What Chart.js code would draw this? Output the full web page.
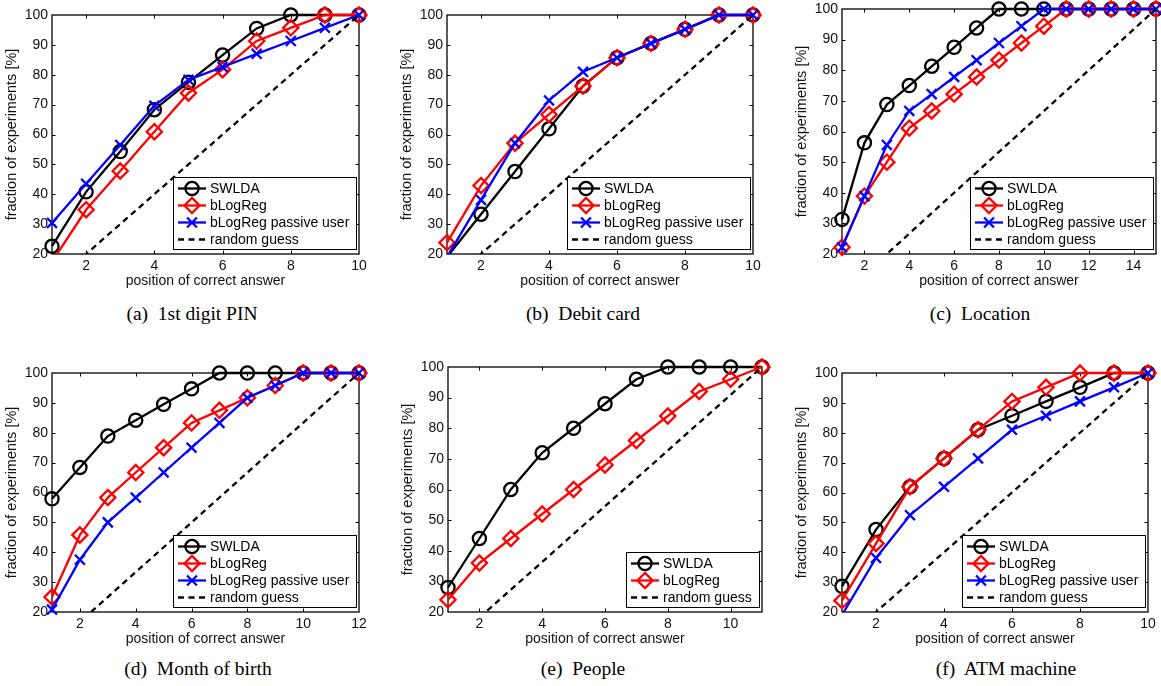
<!DOCTYPE html>
<html>
<head>
<meta charset="utf-8">
<script src="https://cdn.jsdelivr.net/npm/chart.js@4.4.1/dist/chart.umd.min.js"></script>
<style>
html,body{margin:0;padding:0;background:#fff;}
body{width:1161px;height:686px;overflow:hidden;position:relative;}
canvas{position:absolute;}
.cap{position:absolute;font-family:"Liberation Serif","Times New Roman",serif;font-size:19.5px;white-space:pre;color:#000;transform:translate(-50%,-50%);line-height:1;}
</style>
</head>
<body>
<canvas id="ca"></canvas>
<canvas id="cb"></canvas>
<canvas id="cc"></canvas>
<canvas id="cd"></canvas>
<canvas id="ce"></canvas>
<canvas id="cf"></canvas>
<script>
// ---------- data ----------
const Y_TICKS = [20, 30, 40, 50, 60, 70, 80, 90, 100];
const LABELS = ['SWLDA', 'bLogReg', 'bLogReg passive user', 'random guess'];
const X_TITLE = 'position of correct answer';
const Y_TITLE = 'fraction of experiments [%]';
const CAPTIONS = ['(a)  1st digit PIN', '(b)  Debit card', '(c)  Location',
                  '(d)  Month of birth', '(e)  People', '(f)  ATM machine'];

// (a) 1st digit PIN
const posA = [1, 2, 3, 4, 5, 6, 7, 8, 9, 10];
const swldaA = [22.6, 40.8, 54.3, 68.3, 77.5, 86.6, 95.5, 100, 100, 100];
const blogA = [17.4, 34.8, 47.8, 60.9, 73.9, 81.7, 91.3, 95.7, 100, 100];
const passiveA = [30.4, 43.5, 56.5, 69.6, 78.3, 82.6, 87.0, 91.3, 95.7, 100];
const randomA = [10, 20, 30, 40, 50, 60, 70, 80, 90, 100];
const xTicksA = [2, 4, 6, 8, 10];

// (b) Debit card
const posB = [1, 2, 3, 4, 5, 6, 7, 8, 9, 10];
const swldaB = [19.0, 33.3, 47.6, 61.9, 76.2, 85.7, 90.5, 95.2, 100, 100];
const blogB = [23.8, 42.9, 57.1, 66.7, 76.2, 85.7, 90.5, 95.2, 100, 100];
const passiveB = [19.0, 38.1, 57.1, 71.4, 81.0, 85.7, 90.5, 95.2, 100, 100];
const randomB = [10, 20, 30, 40, 50, 60, 70, 80, 90, 100];
const xTicksB = [2, 4, 6, 8, 10];

// (c) Location
const posC = [1, 2, 3, 4, 5, 6, 7, 8, 9, 10, 11, 12, 13, 14, 15];
const swldaC = [31.3, 56.3, 68.8, 75.0, 81.3, 87.5, 93.8, 100, 100, 100, 100, 100, 100, 100, 100];
const blogC = [22.2, 38.9, 50.0, 61.1, 66.7, 72.2, 77.8, 83.3, 88.9, 94.4, 100, 100, 100, 100, 100];
const passiveC = [22.2, 38.9, 55.6, 66.7, 72.2, 77.8, 83.3, 88.9, 94.4, 100, 100, 100, 100, 100, 100];
const randomC = [6.67, 13.33, 20, 26.67, 33.33, 40, 46.67, 53.33, 60, 66.67, 73.33, 80, 86.67, 93.33, 100];
const xTicksC = [2, 4, 6, 8, 10, 12, 14];

// (d) Month of birth
const posD = [1, 2, 3, 4, 5, 6, 7, 8, 9, 10, 11, 12];
const swldaD = [57.9, 68.4, 78.9, 84.2, 89.5, 94.7, 100, 100, 100, 100, 100, 100];
const blogD = [25.0, 45.8, 58.3, 66.7, 75.0, 83.3, 87.5, 91.7, 95.8, 100, 100, 100];
const passiveD = [20.8, 37.5, 50.0, 58.3, 66.7, 75.0, 83.3, 91.7, 95.8, 100, 100, 100];
const randomD = [8.33, 16.67, 25, 33.33, 41.67, 50, 58.33, 66.67, 75, 83.33, 91.67, 100];
const xTicksD = [2, 4, 6, 8, 10, 12];

// (e) People
const posE = [1, 2, 3, 4, 5, 6, 7, 8, 9, 10, 11];
const swldaE = [28, 44, 60, 72, 80, 88, 96, 100, 100, 100, 100];
const blogE = [24, 36, 44, 52, 60, 68, 76, 84, 92, 96, 100];
const randomE = [9.09, 18.18, 27.27, 36.36, 45.45, 54.55, 63.64, 72.73, 81.82, 90.91, 100];
const xTicksE = [2, 4, 6, 8, 10];

// (f) ATM machine
const posF = [1, 2, 3, 4, 5, 6, 7, 8, 9, 10];
const swldaF = [28.6, 47.6, 61.9, 71.4, 81.0, 85.7, 90.5, 95.2, 100, 100];
const blogF = [23.8, 42.9, 61.9, 71.4, 81.0, 90.5, 95.2, 100, 100, 100];
const passiveF = [19.0, 38.1, 52.4, 61.9, 71.4, 81.0, 85.7, 90.5, 95.2, 100];
const randomF = [10, 20, 30, 40, 50, 60, 70, 80, 90, 100];
const xTicksF = [2, 4, 6, 8, 10];

// ---------- styling ----------
const FONT = '"Liberation Sans", Arial, Helvetica, sans-serif';
const LW = 2.3;
const STYLE = {
  swlda:   {color: '#000000', marker: 'circle',   radius: 6.6},
  blog:    {color: '#ff0000', marker: 'rectRot',  radius: 7.6},
  passive: {color: '#0000ff', marker: 'crossRot', radius: 7},
  random:  {color: '#000000', marker: null, dash: [6, 4.5]}
};
const Y_AXIS_W = 50, X_AXIS_H = 40, PAD_TOP = 10, PAD_RIGHT = 12;

function drawMarker(ctx, style, x, y, r, color) {
  if (!style) return;
  ctx.save();
  ctx.strokeStyle = color; ctx.lineWidth = LW; ctx.setLineDash([]);
  ctx.beginPath();
  if (style === 'circle') {
    ctx.arc(x, y, r, 0, Math.PI * 2);
  } else if (style === 'rectRot') {
    ctx.moveTo(x, y - r); ctx.lineTo(x + r, y); ctx.lineTo(x, y + r); ctx.lineTo(x - r, y); ctx.closePath();
  } else if (style === 'crossRot') {
    const d = r * Math.SQRT1_2;
    ctx.moveTo(x - d, y - d); ctx.lineTo(x + d, y + d);
    ctx.moveTo(x - d, y + d); ctx.lineTo(x + d, y - d);
  }
  ctx.stroke();
  ctx.restore();
}

const framePlugin = {
  id: 'frame',
  beforeDatasetsDraw(chart) {
    const {ctx, chartArea: a, scales} = chart;
    ctx.save();
    ctx.strokeStyle = '#000';
    ctx.lineWidth = 1.3;
    ctx.strokeRect(a.left, a.top, a.right - a.left, a.bottom - a.top);
    const TL = 3.5;
    ctx.lineWidth = 1;
    ctx.beginPath();
    scales.x.ticks.forEach(t => {
      const px = Math.round(scales.x.getPixelForValue(t.value)) + 0.5;
      if (px <= a.left + 1 || px >= a.right - 1) return;
      ctx.moveTo(px, a.bottom); ctx.lineTo(px, a.bottom - TL);
      ctx.moveTo(px, a.top); ctx.lineTo(px, a.top + TL);
    });
    scales.y.ticks.forEach(t => {
      const py = Math.round(scales.y.getPixelForValue(t.value)) + 0.5;
      if (py <= a.top + 1 || py >= a.bottom - 1) return;
      ctx.moveTo(a.left, py); ctx.lineTo(a.left + TL, py);
      ctx.moveTo(a.right, py); ctx.lineTo(a.right - TL, py);
    });
    ctx.stroke();
    ctx.restore();
  }
};

const boxLegendPlugin = {
  id: 'boxLegend',
  afterDatasetsDraw(chart, args, opts) {
    const items = opts && opts.items;
    if (!items || !items.length) return;
    const {ctx, chartArea: a} = chart;
    ctx.save();
    ctx.font = '14px ' + FONT;
    const tw = Math.max(...items.map(it => ctx.measureText(it.label).width));
    const w = Math.round(5 + 28 + 4 + tw + 7);
    const h = Math.round(11.5 + (items.length - 1) * 17 + 9.5);
    const x0 = Math.round(a.right - 3 - w), y0 = Math.round(a.bottom - 5 - h);
    ctx.fillStyle = '#fff';
    ctx.fillRect(x0, y0, w, h);
    ctx.strokeStyle = '#000'; ctx.lineWidth = 1;
    ctx.strokeRect(x0 + 0.5, y0 + 0.5, w, h);
    items.forEach((it, i) => {
      const cy = y0 + 11.5 + i * 17;
      ctx.strokeStyle = it.color; ctx.lineWidth = LW;
      ctx.setLineDash(it.dash || []);
      ctx.beginPath(); ctx.moveTo(x0 + 5, cy); ctx.lineTo(x0 + 33, cy); ctx.stroke();
      ctx.setLineDash([]);
      drawMarker(ctx, it.marker, x0 + 19, cy, it.radius, it.color);
      ctx.fillStyle = '#000'; ctx.textAlign = 'left'; ctx.textBaseline = 'middle';
      ctx.fillText(it.label, x0 + 37, cy + 0.5);
    });
    ctx.restore();
  }
};

function buildPanel(id, geo, positions, seriesList, xTicks) {
  const cv = document.getElementById(id);
  const W = geo.r - geo.l + Y_AXIS_W + PAD_RIGHT;
  const H = geo.b - geo.t + PAD_TOP + X_AXIS_H;
  cv.width = W; cv.height = H;
  cv.style.width = W + 'px'; cv.style.height = H + 'px';
  cv.style.left = (geo.l - Y_AXIS_W) + 'px';
  cv.style.top = (geo.t - PAD_TOP) + 'px';

  const datasets = [];
  let order = 50;
  const yMin = Y_TICKS[0];
  seriesList.forEach(s => {
    const pts = positions.map((p, i) => ({x: p, y: s.values[i]}));
    datasets.push({
      label: s.label, data: pts, borderColor: s.color, backgroundColor: s.color,
      borderWidth: LW, borderDash: s.dash || [], pointRadius: 0, pointHoverRadius: 0,
      showLine: true, tension: 0, fill: false,
      clip: {left: 14, top: 10, right: 14, bottom: 0}, order: order--
    });
    if (s.marker) {
      const r = s.radius;
      datasets.push({
        label: s.label + ' markers', data: pts, showLine: false,
        pointStyle: s.marker,
        pointRadius: c => (c.raw && c.raw.y < yMin) ? 0 : r,
        pointHoverRadius: c => (c.raw && c.raw.y < yMin) ? 0 : r,
        pointBorderColor: s.color, pointBackgroundColor: 'rgba(0,0,0,0)',
        pointBorderWidth: LW, borderColor: s.color, clip: false, order: order--
      });
    }
  });

  const tickFont = {family: FONT, size: 14};
  return new Chart(cv, {
    type: 'line',
    data: {datasets},
    plugins: [framePlugin, boxLegendPlugin],
    options: {
      responsive: false, animation: false, events: [],
      devicePixelRatio: 1,
      layout: {autoPadding: false, padding: {left: 0, top: PAD_TOP, right: PAD_RIGHT, bottom: 0}},
      plugins: {
        legend: {display: false}, tooltip: {enabled: false}, title: {display: false},
        boxLegend: {items: seriesList.map(s => ({label: s.label, color: s.color, marker: s.marker, radius: s.radius, dash: s.dash}))}
      },
      scales: {
        x: {
          type: 'linear', position: 'bottom',
          min: positions[0], max: positions[positions.length - 1],
          afterBuildTicks: sc => { sc.ticks = xTicks.map(v => ({value: v})); },
          afterFit: sc => { sc.height = X_AXIS_H; sc.paddingLeft = 0; sc.paddingRight = 0; },
          grid: {display: false, drawTicks: false}, border: {display: false},
          ticks: {padding: 4, color: '#111', font: tickFont, maxRotation: 0, autoSkip: false, callback: v => String(v)},
          title: {display: true, text: X_TITLE, color: '#111', font: tickFont, padding: {top: 0, bottom: 4.6}}
        },
        y: {
          type: 'linear', position: 'left', min: Y_TICKS[0], max: Y_TICKS[Y_TICKS.length - 1],
          afterBuildTicks: sc => { sc.ticks = Y_TICKS.map(v => ({value: v})); },
          afterFit: sc => { sc.width = Y_AXIS_W; sc.paddingTop = 0; sc.paddingBottom = 0; },
          grid: {display: false, drawTicks: false}, border: {display: false},
          ticks: {padding: 4, color: '#111', font: tickFont, autoSkip: false, callback: v => String(v)},
          title: {display: true, text: Y_TITLE, color: '#111', font: {family: FONT, size: 14.5}, padding: {top: 1.5, bottom: 0}}
        }
      }
    }
  });
}

function S(key, label, values) { return Object.assign({label, values}, STYLE[key]); }

buildPanel('ca', {l: 52, t: 15, r: 359, b: 254}, posA,
  [S('swlda', LABELS[0], swldaA), S('blog', LABELS[1], blogA), S('passive', LABELS[2], passiveA), S('random', LABELS[3], randomA)], xTicksA);
buildPanel('cb', {l: 447, t: 15, r: 753, b: 254}, posB,
  [S('swlda', LABELS[0], swldaB), S('blog', LABELS[1], blogB), S('passive', LABELS[2], passiveB), S('random', LABELS[3], randomB)], xTicksB);
buildPanel('cc', {l: 842, t: 9, r: 1156, b: 254}, posC,
  [S('swlda', LABELS[0], swldaC), S('blog', LABELS[1], blogC), S('passive', LABELS[2], passiveC), S('random', LABELS[3], randomC)], xTicksC);
buildPanel('cd', {l: 52, t: 373, r: 359, b: 612}, posD,
  [S('swlda', LABELS[0], swldaD), S('blog', LABELS[1], blogD), S('passive', LABELS[2], passiveD), S('random', LABELS[3], randomD)], xTicksD);
buildPanel('ce', {l: 448, t: 367, r: 762, b: 612}, posE,
  [S('swlda', LABELS[0], swldaE), S('blog', LABELS[1], blogE), S('random', LABELS[3], randomE)], xTicksE);
buildPanel('cf', {l: 842, t: 373, r: 1148, b: 612}, posF,
  [S('swlda', LABELS[0], swldaF), S('blog', LABELS[1], blogF), S('passive', LABELS[2], passiveF), S('random', LABELS[3], randomF)], xTicksF);

// captions
const CAP_POS = [[192, 314], [583, 314], [980, 314], [198, 669], [583, 669], [1006, 669]];
CAPTIONS.forEach((txt, i) => {
  const d = document.createElement('div');
  d.className = 'cap';
  d.textContent = txt;
  d.style.left = CAP_POS[i][0] + 'px';
  d.style.top = CAP_POS[i][1] + 'px';
  document.body.appendChild(d);
});
</script>
</body>
</html>
